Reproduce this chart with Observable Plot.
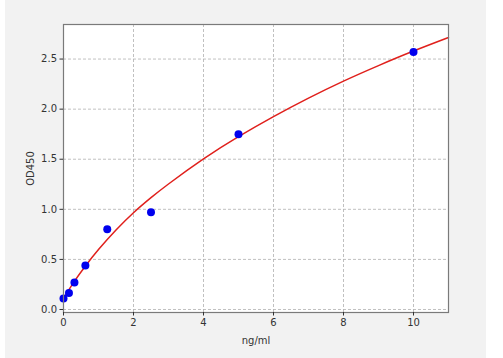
<!DOCTYPE html>
<html><head><meta charset="utf-8">
<script src="https://cdn.jsdelivr.net/npm/d3@7"></script>
<script src="https://cdn.jsdelivr.net/npm/@observablehq/plot@0.6"></script>
<style>
html,body{margin:0;padding:0;background:#fff;}
#wrap{position:absolute;left:0;top:0;width:503px;height:358px;overflow:hidden;}
#bg{position:absolute;left:5px;top:0;width:481px;height:358px;background:#f2f2f2;}
#chart{position:absolute;left:0;top:0;}
</style></head><body>
<div id="wrap"><div id="bg"></div><div id="chart"></div></div>
<script>
// Standard points (ng/ml vs OD450)
const concentration = [0, 0.156, 0.3125, 0.625, 1.25, 2.5, 5, 10];
const od = [0.11, 0.165, 0.27, 0.44, 0.80, 0.97, 1.75, 2.57];
// Fitted curve
const curveX = [0, 0.3, 0.6, 1, 1.5, 2, 2.5, 3, 4, 5, 6, 7, 8, 9, 10, 11];
const curveY = [0.11, 0.275, 0.422, 0.598, 0.793, 0.966, 1.116, 1.253, 1.503, 1.725, 1.925, 2.11, 2.28, 2.435, 2.58, 2.715];
const xTicks = [0, 2, 4, 6, 8, 10];
const yTicks = [0, 0.5, 1, 1.5, 2, 2.5];
const xLabel = "ng/ml";
const yLabel = "OD450";

const points = concentration.map((x, i) => ({x, y: od[i]}));
const curve = curveX.map((x, i) => ({x, y: curveY[i]}));

const chart = Plot.plot({
  width: 503,
  height: 358,
  marginLeft: 63,
  marginRight: 55,
  marginTop: 24,
  marginBottom: 46,
  style: {background: "transparent", fontFamily: "DejaVu Sans", fontSize: "10px", color: "#333"},
  x: {domain: [0, 11]},
  y: {domain: [-0.03, 2.845]},
  marks: [
    Plot.frame({fill: "white", stroke: null}),
    Plot.gridX(xTicks, {stroke: "#b0b0b0", strokeOpacity: 1, strokeDasharray: "3,2", strokeWidth: 0.8}),
    Plot.gridY(yTicks, {stroke: "#b0b0b0", strokeOpacity: 1, strokeDasharray: "3,2", strokeWidth: 0.8}),
    Plot.line(curve, {x: "x", y: "y", stroke: "#e0201c", strokeWidth: 1.5, curve: "natural"}),
    Plot.dot(points, {x: "x", y: "y", r: 4, fill: "#0000ee", stroke: null}),
    Plot.frame({stroke: "#7a7a7a", strokeWidth: 1.2}),
    Plot.axisX(xTicks, {tickSize: 3.5, tickPadding: 3, stroke: "#333", label: xLabel, labelAnchor: "center", labelArrow: "none", labelOffset: 31, fill: "#333"}),
    Plot.axisY(yTicks, {tickSize: 3.5, tickPadding: 3, stroke: "#333", tickFormat: d3.format(".1f"), label: yLabel, labelAnchor: "center", labelArrow: "none", labelOffset: 37, fill: "#333"})
  ]
});
document.getElementById("chart").appendChild(chart);
</script>
</body></html>
